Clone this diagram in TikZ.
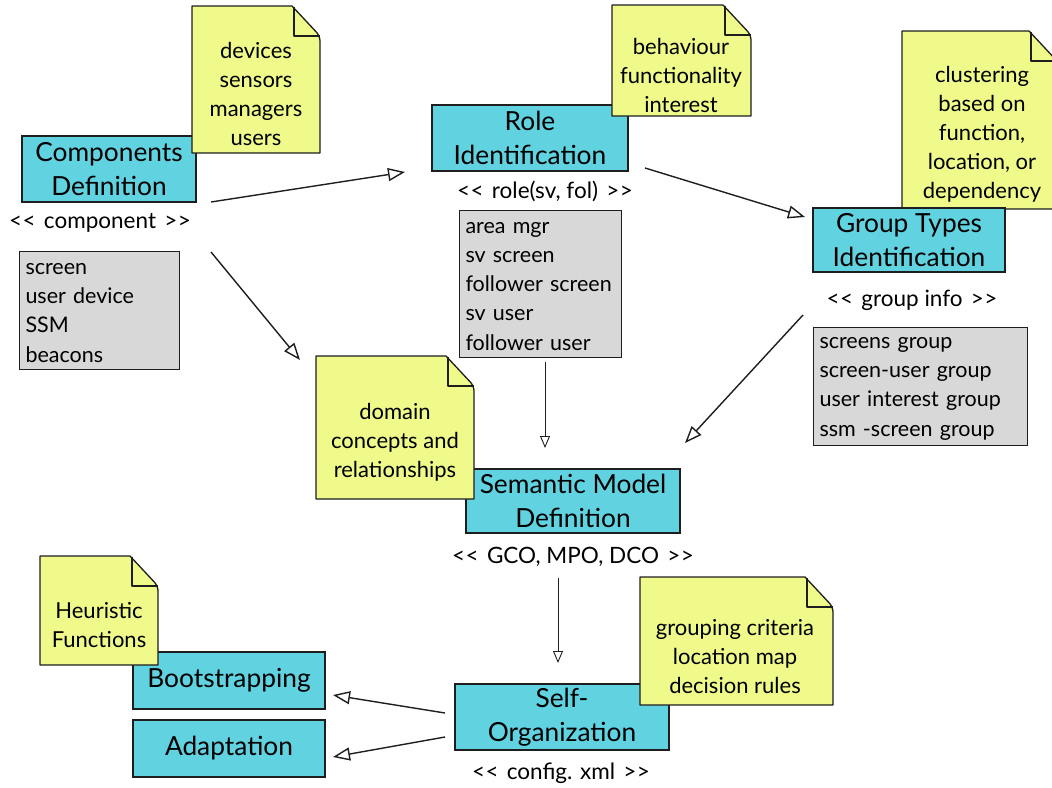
\documentclass[tikz,border=0pt]{standalone}
\usepackage{fontspec}
\setmainfont{Lato}[Ligatures=TeXOff]
\usetikzlibrary{arrows.meta}
\definecolor{boxblue}{HTML}{60D2E0}
\definecolor{noteyellow}{HTML}{EFFA8B}
\definecolor{listgrey}{HTML}{D8D8D8}
\definecolor{edge}{HTML}{1E1E1E}
\newcommand\stereo[1]{<\kern0.5pt<\hspace{2.5pt} #1 \hspace{2.5pt}>\kern0.5pt>}
% folded sticky note outline from (x1,y1) to (x2,y2)
\newcommand\stickynote[4]{%
  \filldraw[notebody] (#1,#2) -- ({#3-28},#2) [rounded corners=5pt] -- (#3,{#2+30}) [sharp corners] -- (#3,#4) -- (#1,#4) -- cycle;
  \draw[notebody, fill=none] ({#3-26},{#2+1}) -- ({#3-26},{#2+30}) -- (#3,{#2+30});
}
\tikzset{
  stage/.style={draw=edge, line width=1.3pt, fill=boxblue, align=center, inner sep=0pt, text=black,
    font=\fontsize{26.3}{34}\selectfont},
  stereotag/.style={inner sep=0pt, font=\fontsize{22.5}{29}\selectfont},
  items/.style={draw=edge, line width=1pt, fill=listgrey, align=left, inner xsep=6pt, inner ysep=0pt,
    anchor=north west, font=\fontsize{21.5}{29.3}\selectfont},
  notebody/.style={draw=edge, line width=1.3pt, fill=noteyellow, line join=round},
  notetext/.style={align=center, inner sep=0pt, font=\fontsize{22}{29}\selectfont},
  flow/.style={draw=edge, line width=1.4pt, -{Triangle[length=17pt, width=13pt, fill=white, line width=1.4pt]}},
  thinflow/.style={draw=edge, line width=0.9pt, -{Triangle[length=12pt, width=10pt, fill=white]}},
}
\begin{document}
\begin{tikzpicture}[x=1pt, y=-1pt]
\useasboundingbox (0,0) rectangle (1052,787);

% process stages
\node[stage, minimum width=174pt, minimum height=66pt] (comp) at (109,169) {Components\\Definition};
\node[stage, minimum width=196pt, minimum height=66pt] (role) at (530,138) {Role\\Identification};
\node[stage, minimum width=214pt, minimum height=64pt] (sem) at (573,501) {Semantic Model\\Definition};
\node[stage, minimum width=192pt, minimum height=57pt] (boot) at (229,680.5) {Bootstrapping};
\node[stage, minimum width=192pt, minimum height=57pt] (adapt) at (229,748.5) {Adaptation};
\node[stage, minimum width=214pt, minimum height=66pt] (self) at (562,717) {Self-\\Organization};

% notes
\stickynote{192}{6}{320}{153}
\node[notetext] (n-comp) at (256,94) {devices\\sensors\\managers\\users};
\stickynote{612}{5}{751}{116}
\node[notetext] (n-role) at (681,75) {behaviour\\functionality\\interest};
\stickynote{902}{31}{1057}{209}
\node[notetext] (n-group) at (982,134) {clustering\\based on\\function,\\location, or\\dependency};
\stickynote{316}{356}{474}{499}
\node[notetext] (n-sem) at (395,442) {domain\\concepts and\\relationships};
\stickynote{40}{556}{158}{665}
\node[notetext] (n-boot) at (99,625.5) {Heuristic\\Functions};
\stickynote{640}{577}{833}{705}
\node[notetext] (n-self) at (735,657) {grouping criteria\\location map\\decision rules};

\node[stage, minimum width=192pt, minimum height=64pt] (group) at (909,240) {Group Types\\Identification};

% stereotypes
\node[stereotag] (t-comp) at (100,223) {\stereo{component}};
\node[stereotag] (t-role) at (545,191) {\stereo{role(sv, fol)}};
\node[stereotag] (t-group) at (912,300) {\stereo{group info}};
\node[stereotag] (t-sem) at (573,557) {\stereo{GCO, MPO, DCO}};
\node[stereotag] (t-self) at (561,773) {\stereo{config. xml}};

% item lists
\node[items, minimum height=118pt, text width=148pt] (l-comp) at (19,251) {\vphantom{Ay}screen\\user device\\SSM\\beacons};
\node[items, minimum height=147pt, text width=150pt] (l-role) at (459,210) {\vphantom{Ay}area mgr\\sv screen\\follower screen\\sv user\\follower user};
\node[items, minimum height=118pt, text width=202pt] (l-group) at (813,327) {\vphantom{Ay}screens group\\screen-user group\\user interest group\\ssm -screen group};

% connector ends
\coordinate (c1a) at (211,202); \coordinate (c1b) at (405,172);
\coordinate (c2a) at (211,252); \coordinate (c2b) at (300,360);
\coordinate (c3a) at (645,168); \coordinate (c3b) at (805,217);
\coordinate (c4a) at (803,315); \coordinate (c4b) at (685,443);
\coordinate (c5a) at (545,362); \coordinate (c5b) at (545,448);
\coordinate (c6a) at (558,578); \coordinate (c6b) at (558,663);
\coordinate (c7a) at (445,713); \coordinate (c7b) at (333,695);
\coordinate (c8a) at (445,737); \coordinate (c8b) at (333,757);

\draw[flow] (c1a) -- (c1b);
\draw[flow] (c2a) -- (c2b);
\draw[flow] (c3a) -- (c3b);
\draw[flow] (c4a) -- (c4b);
\draw[thinflow] (c5a) -- (c5b);
\draw[thinflow] (c6a) -- (c6b);
\draw[flow] (c7a) -- (c7b);
\draw[flow] (c8a) -- (c8b);
\end{tikzpicture}
\end{document}
